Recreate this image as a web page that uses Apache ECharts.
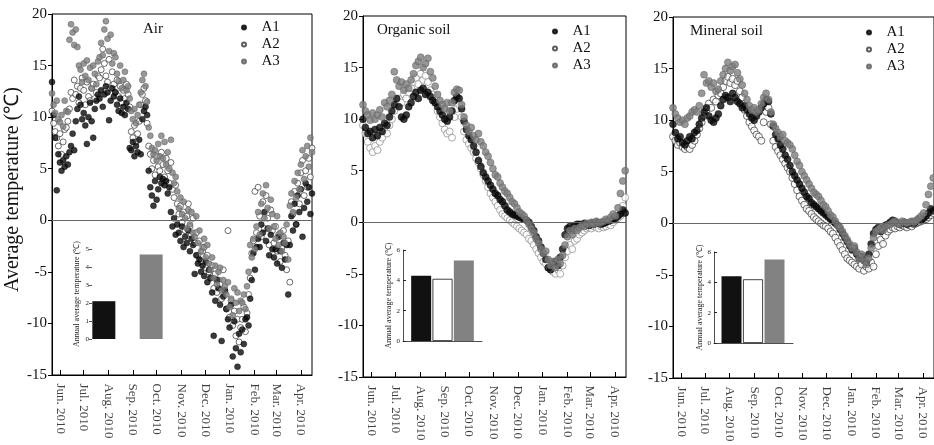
<!DOCTYPE html>
<html><head><meta charset="utf-8">
<script src="https://cdn.jsdelivr.net/npm/echarts@6/dist/echarts.min.js"></script>
<style>html,body{margin:0;padding:0;background:#fff}#c{width:934px;height:445px}</style>
</head><body><div id="c"></div>
<script>
// ---------- data ----------
const monthTicks = [0, 30, 61, 92, 122, 153, 183, 214, 245, 273, 304]; // days from 1 Jun
const monthLabels = ['Jun. 2010','Jul. 2010','Aug. 2010','Sep. 2010','Oct. 2010','Nov. 2010','Dec. 2010','Jan. 2010','Feb. 2010','Mar. 2010','Apr. 2010'];
const panelTitles = ['Air', 'Organic soil', 'Mineral soil'];
const seriesNames = ['A1', 'A2', 'A3'];
const yTitle = 'Average temperature (℃)';
const insetTitle = 'Annual average temperature (℃)';

const airStartDay = -10, airStepDays = 2;
const soilStartDay = -10, soilStepDays = 3;

const airA1 = [
13.4,10.2,8.0,2.9,6.4,5.6,4.8,5.8,5.2,6.2,
5.4,6.6,7.2,8.4,6.8,9.6,10.8,12.0,11.2,9.8,
10.4,9.2,7.4,10.0,11.4,9.6,8.0,10.8,11.6,12.2,
11.8,12.6,11.0,12.2,13.0,12.4,9.7,11.6,12.8,12.0,
12.4,11.2,10.6,11.8,10.4,11.0,10.2,11.4,10.8,7.0,
6.8,7.6,6.2,7.2,6.6,7.8,6.4,9.8,10.6,11.0,
10.2,4.8,3.2,2.4,1.4,3.8,2.0,3.0,4.2,3.6,
4.0,3.4,3.8,2.6,3.2,0.8,-0.6,0.2,-1.4,-0.4,
-1.2,-2.0,-0.6,-2.6,-1.6,-2.2,-1.0,-3.0,-1.8,-2.4,
-5.2,-3.4,-4.2,-3.8,-5.0,-4.4,-5.4,-4.0,-6.0,-4.8,
-5.6,-7.0,-11.2,-7.8,-5.8,-6.6,-8.2,-11.7,-7.4,-6.8,
-8.6,-9.6,-10.4,-8.2,-13.2,-9.8,-12.4,-14.2,-11.0,-12.8,
-10.6,-12.0,-9.6,-9.4,-10.2,-7.6,-5.8,-3.2,-4.8,-2.6,
-1.8,-2.6,-0.4,-1.2,0.8,-2.0,-0.8,-3.4,-1.4,-2.8,
-3.6,-2.8,-4.2,-1.6,-3.0,-4.6,-2.2,-3.8,-2.4,-7.2,
-2.4,0.4,-1.0,1.6,-0.4,2.4,0.8,3.0,-1.6,1.2,
3.6,1.8,3.2,0.6,2.6];
const airA2 = [
10.6,9.4,8.6,8.0,7.2,8.4,6.4,7.6,8.8,9.0,
9.6,10.8,12.4,11.8,13.6,12.2,13.0,11.4,12.8,13.8,
12.6,11.2,13.4,12.0,11.6,12.8,13.2,11.8,12.4,14.0,
13.8,14.6,16.6,15.2,14.0,13.4,15.6,12.8,14.4,13.2,
12.4,13.6,12.0,13.0,11.4,12.6,11.8,13.2,12.2,11.0,
8.6,8.0,9.2,7.6,8.4,9.6,11.2,12.2,12.8,11.6,
9.4,7.2,6.4,5.0,5.8,4.4,6.2,5.2,4.8,6.6,
5.4,4.2,6.0,4.8,3.6,5.6,3.0,2.2,3.4,1.6,
0.6,1.4,-0.2,0.8,-1.0,0.4,1.6,-0.6,-1.4,0.2,
-2.2,-1.2,-3.4,-2.0,-4.0,-3.0,-2.6,-4.6,-3.4,-5.0,
-5.6,-4.4,-6.6,-5.2,-7.0,-5.8,-6.2,-7.6,-4.8,-6.8,
-8.6,-1.0,-9.4,-7.8,-10.2,-8.8,-11.2,-9.6,-11.8,-10.4,
-9.6,-8.4,-10.8,-9.0,-7.2,-5.6,-3.2,-2.0,2.8,-1.2,
3.2,0.4,-1.6,1.8,-0.8,2.4,0.2,-2.4,1.0,-1.0,
-2.2,-0.6,-3.0,-1.4,-4.0,-2.6,-1.0,-3.4,-4.8,-2.0,
-6.0,1.8,0.6,2.8,-0.4,3.6,1.6,4.6,5.8,2.4,
4.8,3.2,6.0,4.2,7.0];
const airA3 = [
12.3,11.2,10.4,11.6,9.8,9.5,10.2,9.1,11.6,10.6,
10.5,17.5,19.0,18.2,17.0,18.5,16.8,15.0,14.6,13.4,
15.2,14.0,15.5,13.6,14.8,12.8,15.0,14.2,13.2,15.4,
15.8,17.2,16.0,18.5,19.3,17.6,16.4,18.0,15.2,16.2,
15.8,14.2,13.5,15.0,12.8,13.6,14.4,12.6,13.0,11.8,
10.6,9.8,10.8,9.4,10.2,11.2,12.4,13.6,14.2,13.0,
11.5,9.0,8.2,7.0,6.4,6.8,5.8,7.4,6.2,8.2,
6.0,7.6,5.4,6.6,5.0,7.8,4.6,3.6,4.2,2.8,
1.2,2.2,0.6,1.8,0.2,-0.8,1.0,-0.4,0.8,-1.2,
-1.6,0.4,-2.2,-1.0,-3.0,-2.6,-1.8,-3.6,-2.4,-4.2,
-4.8,-3.6,-5.6,-4.4,-6.2,-5.0,-4.6,-6.8,-5.8,-6.4,
-7.2,-6.0,-8.4,-7.6,-9.2,-6.6,-8.0,-7.0,-8.8,-7.8,
-8.0,-7.2,-8.6,-6.4,-5.0,-2.4,-3.6,-1.8,-2.8,-0.6,
0.8,-1.4,1.6,2.6,0.2,3.4,1.2,-0.8,2.0,0.6,
-0.6,-1.8,0.4,-2.4,-1.2,-3.0,-1.6,-2.2,-0.4,-3.8,
1.4,2.6,0.8,3.8,2.2,4.6,3.0,5.4,6.8,4.0,
6.2,7.2,5.2,8.0,6.6];

const orgA1 = [
10.0,9.2,8.6,8.8,8.2,9.0,8.4,9.2,8.8,9.6,
9.4,10.2,10.8,11.4,12.0,11.2,10.2,10.0,10.4,11.2,
11.6,12.2,12.6,12.0,12.8,13.0,12.4,12.6,12.2,11.8,
11.6,11.2,10.8,10.4,10.0,9.8,10.2,10.8,11.8,12.2,
12.0,11.0,9.8,9.0,8.4,8.0,7.4,6.8,6.0,5.4,
4.8,4.4,4.0,3.6,3.2,2.8,2.6,2.2,2.0,1.6,
1.2,1.0,0.8,0.7,0.6,0.5,0.4,0.3,0.2,0.0,
-0.4,-0.8,-1.4,-1.8,-2.4,-3.0,-3.6,-4.4,-4.6,-4.0,
-3.8,-4.2,-3.4,-2.6,-1.2,-0.6,-0.4,-0.8,-0.3,-0.2,
-0.2,-0.3,-0.1,-0.2,-0.3,-0.1,-0.2,0.0,-0.1,-0.2,
-0.1,0.0,0.1,0.2,0.3,0.4,0.6,0.8,1.2,0.9];
const orgA2 = [
9.4,8.6,7.8,7.2,6.8,7.4,7.0,7.8,8.2,8.8,
8.6,9.4,10.0,10.8,11.4,12.0,11.6,12.4,12.0,12.6,
13.0,13.6,14.0,13.4,14.4,13.8,14.2,13.6,12.8,12.4,
11.6,10.8,10.2,9.6,9.0,8.6,8.8,8.2,10.2,11.0,
11.4,10.2,8.8,8.0,7.6,7.2,6.8,6.2,5.8,5.2,
4.6,4.0,3.4,2.8,2.4,2.0,1.6,1.2,0.8,0.6,
0.4,0.2,0.0,-0.2,-0.4,-0.6,-0.8,-1.0,-1.2,-1.6,
-1.8,-2.2,-2.6,-3.0,-3.4,-3.8,-4.0,-4.4,-4.6,-4.8,
-5.0,-4.6,-5.0,-4.2,-3.4,-2.8,-2.2,-2.6,-1.8,-1.6,
-1.2,-1.0,-0.8,-0.6,-0.5,-0.6,-0.4,-0.5,-0.6,-0.4,
-0.5,-0.4,-0.2,-0.3,0.0,0.2,0.4,0.6,1.6,2.4];
const orgA3 = [
11.4,10.8,10.4,9.9,10.6,10.0,10.4,10.9,10.2,11.6,
11.2,11.8,12.4,14.6,13.8,13.2,13.6,12.8,13.4,13.0,
13.8,14.4,15.2,15.6,16.0,15.0,15.4,15.9,14.6,14.0,
13.2,12.4,11.8,11.4,11.0,11.6,10.8,11.6,12.6,12.9,
12.8,11.4,10.2,9.4,8.8,9.2,8.4,8.0,8.6,7.8,
7.4,6.8,6.4,5.8,5.2,4.6,4.4,3.8,3.4,3.0,
2.8,2.4,2.0,1.8,1.4,1.0,0.8,0.6,0.2,-0.2,
-0.6,-1.0,-1.6,-2.0,-2.6,-3.0,-2.8,-3.6,-4.2,-3.8,
-4.4,-3.6,-4.0,-3.2,-2.2,-1.4,-0.8,-1.2,-0.6,-0.8,
-0.5,-0.3,-0.4,-0.1,-0.2,0.0,-0.2,0.1,-0.1,0.0,
0.1,0.3,0.2,0.5,0.8,0.6,1.4,2.8,4.0,5.0];

const minA1 = [
9.6,8.8,8.2,8.4,7.8,7.6,8.0,8.4,8.2,8.8,
9.0,9.6,10.2,10.8,11.2,10.4,10.0,9.8,10.2,10.6,
11.4,12.0,12.4,12.2,11.8,12.6,12.2,11.8,11.6,11.2,
11.4,11.0,10.6,10.2,10.0,10.4,10.8,11.2,11.6,12.0,
11.8,10.6,9.4,8.6,8.2,7.6,7.2,6.6,6.2,5.6,
5.0,4.6,4.2,3.8,3.4,3.0,2.6,2.4,2.0,1.8,
1.6,1.4,1.2,1.0,0.8,0.6,0.4,0.2,0.0,-0.2,
-0.6,-1.0,-1.4,-1.8,-2.2,-2.6,-2.4,-3.0,-3.4,-3.2,
-3.6,-3.8,-3.0,-2.0,-1.0,-0.6,-0.4,-0.8,-0.5,-0.2,
-0.1,0.1,0.3,0.2,0.0,-0.1,0.0,0.1,-0.1,0.0,
0.1,0.0,0.2,0.4,0.3,0.5,0.7,1.0,1.4,1.2];
const minA2 = [
8.4,8.0,7.6,7.8,7.4,7.2,7.4,7.2,7.6,8.0,
8.6,9.2,9.8,10.4,11.0,11.6,11.2,12.0,11.8,12.4,
12.6,13.2,13.8,14.2,13.6,14.0,13.4,13.8,12.8,12.2,
11.0,10.4,9.8,9.4,9.0,8.6,8.4,8.0,9.8,10.8,
11.2,9.6,8.0,7.4,7.0,6.6,6.2,5.8,5.4,5.0,
4.4,3.8,3.2,2.6,2.2,1.8,1.4,1.2,0.9,0.6,
0.4,0.2,0.0,-0.2,-0.3,-0.5,-0.8,-1.0,-1.4,-1.8,
-2.2,-2.6,-3.0,-3.4,-3.6,-3.8,-4.0,-4.2,-4.4,-4.0,
-4.6,-4.2,-4.4,-3.8,-4.2,-3.0,-2.2,-1.6,-2.0,-1.2,
-0.8,-0.6,-0.4,-0.5,-0.3,-0.4,-0.2,-0.3,-0.4,-0.2,
-0.3,-0.1,0.0,0.1,0.2,0.3,0.4,0.6,0.8,1.0];
const minA3 = [
11.2,10.6,10.2,9.8,10.0,9.6,10.2,10.4,10.8,11.0,
10.8,11.4,12.6,14.4,13.6,13.8,13.2,13.6,12.8,13.0,
13.8,14.4,15.0,15.6,14.8,15.2,15.4,14.6,14.0,13.4,
12.6,12.0,11.4,11.0,11.2,10.8,11.0,11.6,12.2,12.6,
12.0,10.8,9.6,9.2,8.8,8.4,8.6,8.0,7.8,7.6,
7.2,6.6,6.0,5.6,5.0,4.6,4.2,3.8,3.4,3.0,
2.8,2.6,2.2,1.8,1.6,1.2,0.8,0.6,0.2,-0.2,
-0.4,-0.8,-1.2,-1.6,-2.0,-2.4,-2.2,-2.8,-3.4,-3.0,
-3.6,-4.0,-3.4,-2.4,-1.4,-0.8,-0.6,-0.4,-0.7,-0.3,
-0.2,-0.1,0.1,0.2,0.0,-0.1,0.2,0.1,0.0,0.1,
0.2,0.1,0.3,0.5,0.7,1.0,1.8,2.8,3.6,4.4];

const airAnnual = [2.1, 3.3, 4.7];
const organicAnnual = [4.3, 4.1, 5.3];
const mineralAnnual = [4.4, 4.2, 5.5];

// ---------- chart ----------
const SERIF = "'Liberation Serif','Times New Roman',serif";
const Y_MIN = -15, Y_MAX = 20;
function pts(vals, start, step) { return vals.map((v, i) => [start + step * i, v]); }

const styles = {
  A1: { color: '#0a0a0a', borderColor: '#000', borderWidth: 0.5 },
  A2: { color: '#ffffff', borderColor: '#333', borderWidth: 0.9 },
  A3: { color: '#7e7e7e', borderColor: '#5c5c5c', borderWidth: 0.6 }
};

const panels = [
  { grid: { left: 52, top: 14, width: 260, height: 361 }, data: { A1: airA1, A2: airA2, A3: airA3 }, start: airStartDay, step: airStepDays, size: 6, title: { left: 143, top: 22 }, legend: { left: 241, top: 20 }, a2border: '#333' },
  { grid: { left: 363, top: 16, width: 263, height: 361 }, data: { A1: orgA1, A2: orgA2, A3: orgA3 }, start: soilStartDay, step: soilStepDays, size: 7, title: { left: 377, top: 23 }, legend: { left: 552, top: 24 }, a2border: '#8a8a8a' },
  { grid: { left: 673, top: 17, width: 263, height: 361 }, data: { A1: minA1, A2: minA2, A3: minA3 }, start: soilStartDay, step: soilStepDays, size: 7, title: { left: 690, top: 24 }, legend: { left: 866, top: 25 }, a2border: '#333' }
];

const grid = [], xAxis = [], yAxis = [], series = [], title = [], legend = [];

panels.forEach((p, k) => {
  grid.push(Object.assign({ show: true, borderColor: '#000', borderWidth: 1, backgroundColor: 'transparent' }, p.grid));
  xAxis.push({
    type: 'value', gridIndex: k, min: -10, max: 318,
    axisLine: { show: true, onZero: false, lineStyle: { color: '#000', width: 1 } },
    axisTick: { show: true, inside: true, length: 5, customValues: monthTicks, lineStyle: { color: '#000' } },
    axisLabel: { show: false },
    splitLine: { show: false }
  });
  yAxis.push({
    type: 'value', gridIndex: k, min: Y_MIN, max: Y_MAX, interval: 5,
    axisLine: { show: true, onZero: false, lineStyle: { color: '#000', width: 1 } },
    axisTick: { show: true, length: 4, lineStyle: { color: '#000' } },
    axisLabel: { fontFamily: SERIF, fontSize: 15, color: '#111', margin: 5 },
    splitLine: { show: false },
    name: k === 0 ? yTitle : '', nameLocation: 'middle', nameGap: 19,
    nameTextStyle: { fontFamily: SERIF, fontSize: 20, color: '#111', padding: [0, 0, 0, 10] }
  });
  title.push({ text: panelTitles[k], left: p.title.left, top: p.title.top, padding: 0,
    textStyle: { fontFamily: SERIF, fontSize: 15, fontWeight: 'normal', color: '#111' } });
  legend.push({ orient: 'vertical', left: p.legend.left, top: p.legend.top, padding: 0,
    itemWidth: 25, itemHeight: 4, itemGap: 2, data: seriesNames, selectedMode: false,
    textStyle: { fontFamily: SERIF, fontSize: 15, color: '#111', lineHeight: 15 } });
  ['A2', 'A1', 'A3'].forEach((nm, j) => {
    const st = Object.assign({}, styles[nm]);
    if (nm === 'A2') st.borderColor = p.a2border;
    const s = {
      type: 'scatter', name: nm, xAxisIndex: k, yAxisIndex: k,
      symbol: 'circle', symbolSize: p.size, itemStyle: st,
      data: pts(p.data[nm], p.start, p.step), silent: true
    };
    if (j === 0) {
      s.markLine = { silent: true, symbol: 'none', label: { show: false },
        lineStyle: { color: '#666', width: 1, type: 'solid' }, data: [{ yAxis: 0 }] };
    }
    series.push(s);
  });
  // month tick labels, rotated, hung under the x axis at each month tick
  series.push({
    type: 'scatter', name: 'monthLabels' + k, xAxisIndex: k, yAxisIndex: k, silent: true, clip: false,
    symbol: 'circle', symbolSize: 1, itemStyle: { color: 'rgba(0,0,0,0)' },
    data: monthTicks.map((d, j) => ({ value: [d, Y_MIN], name: monthLabels[j] })),
    label: { show: true, position: 'bottom', distance: 8, rotate: -90, align: 'left', verticalAlign: 'middle',
      formatter: '{b}', fontFamily: SERIF, fontSize: 13, color: '#111' },
    labelLayout: { hideOverlap: false }
  });
});

// insets
const barColors = ['#111111', '#ffffff', '#828282'];
function barSeries(vals, xi, yi, bw, whiteBorder) {
  return {
    type: 'bar', xAxisIndex: xi, yAxisIndex: yi, barWidth: bw, silent: true,
    data: vals.map((v, i) => ({ value: v, itemStyle: { color: barColors[i],
      borderColor: i === 1 ? (whiteBorder ? '#111' : '#fff') : barColors[i], borderWidth: i === 1 && whiteBorder ? 0.8 : 0 } }))
  };
}
const insetName = { fontFamily: SERIF, fontSize: 8, color: '#222' };
const insetLabel = { fontFamily: SERIF, fontSize: 7, color: '#222', margin: 3 };

// air inset (grid 3)
grid.push({ left: 92, top: 249, width: 71, height: 90 });
xAxis.push({ type: 'category', gridIndex: 3, data: seriesNames, show: false });
yAxis.push({ type: 'value', gridIndex: 3, min: 0, max: 5, interval: 1,
  axisLine: { show: false }, axisTick: { show: true, length: 3, lineStyle: { color: '#555' } },
  axisLabel: insetLabel, splitLine: { show: false },
  name: insetTitle, nameLocation: 'middle', nameGap: 11, nameTextStyle: insetName });
series.push(barSeries(airAnnual, 3, 3, 23, false));

// organic inset: axes grid 4, bars grid 5
grid.push({ left: 403, top: 250, width: 79, height: 91 });
xAxis.push({ type: 'value', gridIndex: 4, min: 0, max: 1, axisLine: { show: true, lineStyle: { color: '#222', width: 0.8 } },
  axisTick: { show: false }, axisLabel: { show: false }, splitLine: { show: false } });
yAxis.push({ type: 'value', gridIndex: 4, min: 0, max: 6, interval: 2,
  axisLine: { show: true, lineStyle: { color: '#222', width: 0.8 } }, axisTick: { show: true, inside: true, length: 3, lineStyle: { color: '#222' } },
  axisLabel: insetLabel, splitLine: { show: false },
  name: insetTitle, nameLocation: 'middle', nameGap: 9, nameTextStyle: insetName });
grid.push({ left: 410.5, top: 250, width: 64, height: 91 });
xAxis.push({ type: 'category', gridIndex: 5, data: seriesNames, show: false });
yAxis.push({ type: 'value', gridIndex: 5, min: 0, max: 6, show: false });
series.push(barSeries(organicAnnual, 5, 5, 20, true));

// mineral inset: axes grid 6, bars grid 7
grid.push({ left: 714, top: 252, width: 79, height: 91 });
xAxis.push({ type: 'value', gridIndex: 6, min: 0, max: 1, axisLine: { show: true, lineStyle: { color: '#222', width: 0.8 } },
  axisTick: { show: false }, axisLabel: { show: false }, splitLine: { show: false } });
yAxis.push({ type: 'value', gridIndex: 6, min: 0, max: 6, interval: 2,
  axisLine: { show: true, lineStyle: { color: '#222', width: 0.8 } }, axisTick: { show: true, inside: true, length: 3, lineStyle: { color: '#222' } },
  axisLabel: insetLabel, splitLine: { show: false },
  name: insetTitle, nameLocation: 'middle', nameGap: 9, nameTextStyle: insetName });
grid.push({ left: 720.75, top: 252, width: 64.5, height: 91 });
xAxis.push({ type: 'category', gridIndex: 7, data: seriesNames, show: false });
yAxis.push({ type: 'value', gridIndex: 7, min: 0, max: 6, show: false });
series.push(barSeries(mineralAnnual, 7, 7, 20, true));

const chart = echarts.init(document.getElementById('c'), null, { renderer: 'canvas' });
chart.setOption({ animation: false, backgroundColor: '#fff', title, legend, grid, xAxis, yAxis, series });
</script></body></html>
